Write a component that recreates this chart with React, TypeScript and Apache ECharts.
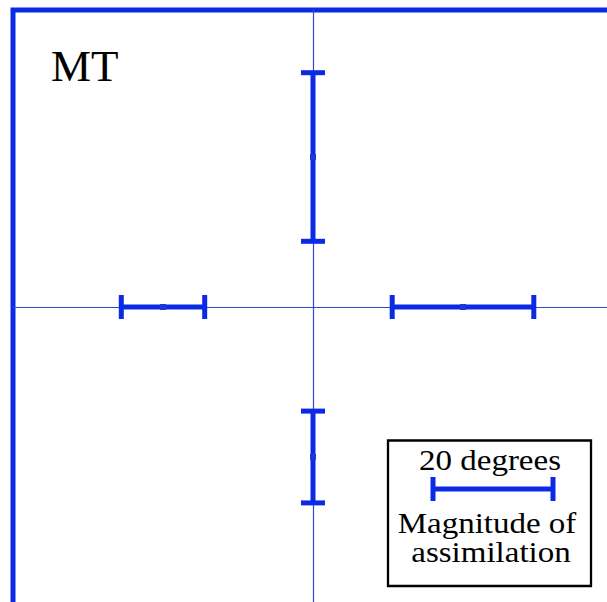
import React, { useEffect, useRef } from "react";
import * as echarts from "echarts";

// Assimilation error bars: centre positions (degrees) and magnitude (degrees)
const barNames = ["up", "right", "down", "left"];
const barCenterX = [0, 25, 0, -25];
const barCenterY = [25, 0, -25, 0];
const barMagnitude = [28.1, 23.6, 15.3, 13.9];
const barOrientation = ["v", "h", "v", "h"];

// Scale bar in the legend box
const scaleBarDegrees = 20;
const scaleBarCenter = [30, -30.33];

const panelLabel = "MT";
const legendTitle = "20 degrees";
const legendLines = ["Magnitude of", "assimilation"];

const BLUE = "#0a2be3";
const THIN = "#2f48d6";
const SERIF = "'Times New Roman', 'Liberation Serif', Times, serif";

export default function App() {
  const ref = useRef<HTMLDivElement>(null);

  useEffect(() => {
    if (!ref.current) return;
    const chart = echarts.init(ref.current, undefined, { renderer: "svg" });

    const data = barNames.map((n, i) => ({
      name: n,
      value: [barCenterX[i], barCenterY[i], barMagnitude[i], barOrientation[i] === "v" ? 1 : 0],
    }));
    data.push({
      name: "scale",
      value: [scaleBarCenter[0], scaleBarCenter[1], scaleBarDegrees, 0],
    });

    const renderItem = (params: any, api: any) => {
      const cx = api.value(0);
      const cy = api.value(1);
      const mag = api.value(2);
      const vertical = api.value(3) === 1;
      const half = mag / 2;
      const p1 = vertical ? api.coord([cx, cy + half]) : api.coord([cx - half, cy]);
      const p2 = vertical ? api.coord([cx, cy - half]) : api.coord([cx + half, cy]);
      const c = api.coord([cx, cy]);
      const capHalf = 12;
      const ls = { stroke: BLUE, lineWidth: 5 };
      const cap = (p: number[]) =>
        vertical
          ? { type: "line", shape: { x1: p[0] - capHalf, y1: p[1], x2: p[0] + capHalf, y2: p[1] }, style: ls }
          : { type: "line", shape: { x1: p[0], y1: p[1] - capHalf, x2: p[0], y2: p[1] + capHalf }, style: ls };
      const isScale = params.dataIndex === barNames.length;
      const children: any[] = [
        { type: "line", shape: { x1: p1[0], y1: p1[1], x2: p2[0], y2: p2[1] }, style: ls },
        cap(p1),
        cap(p2),
      ];
      if (!isScale) {
        children.push({
          type: "rect",
          shape: { x: c[0] - 3, y: c[1] - 3, width: 6, height: 6 },
          style: { fill: "#1a38dc" },
        });
      }
      return { type: "group", children };
    };

    const axisCommon = {
      type: "value" as const,
      axisLine: { show: true, onZero: true, lineStyle: { color: THIN, width: 1.2 } },
      axisTick: { show: false },
      axisLabel: { show: false },
      splitLine: { show: false },
    };

    const textStyle = (text: string, size: number, align: string) => ({
      text,
      font: `normal ${size}px ${SERIF}`,
      fill: "#000",
      textAlign: align,
      textVerticalAlign: "middle",
    });

    chart.setOption({
      animation: false,
      textStyle: { fontFamily: SERIF },
      grid: {
        show: true,
        left: 13,
        top: 10,
        width: 600,
        height: 597,
        outerBoundsMode: "none",
        containLabel: false,
        borderColor: BLUE,
        borderWidth: 5,
        backgroundColor: "transparent",
      },
      xAxis: { ...axisCommon, min: -50, max: 50 },
      yAxis: { ...axisCommon, min: -50, max: 49.5 },
      series: [
        {
          type: "custom",
          renderItem,
          data,
          z: 5,
        },
      ],
      graphic: [
        {
          type: "text",
          x: 51,
          y: 66,
          style: textStyle(panelLabel, 45, "left"),
        },
        {
          type: "rect",
          shape: { x: 388, y: 440.5, width: 203, height: 145.5 },
          style: { fill: "#fff", stroke: "#000", lineWidth: 2.3 },
          z: 1,
        },
        {
          type: "text",
          x: 490,
          y: 459.8,
          scaleX: 1.1,
          z: 2,
          style: textStyle(legendTitle, 30, "center"),
        },
        {
          type: "text",
          x: 487,
          y: 522.8,
          scaleX: 1.1,
          z: 2,
          style: textStyle(legendLines[0], 30, "center"),
        },
        {
          type: "text",
          x: 491,
          y: 551.8,
          scaleX: 1.1,
          z: 2,
          style: textStyle(legendLines[1], 30, "center"),
        },
      ],
    });

    return () => chart.dispose();
  }, []);

  return (
    <div
      ref={ref}
      style={{ position: "fixed", left: 0, top: 0, width: 607, height: 602, background: "#fff" }}
    />
  );
}
